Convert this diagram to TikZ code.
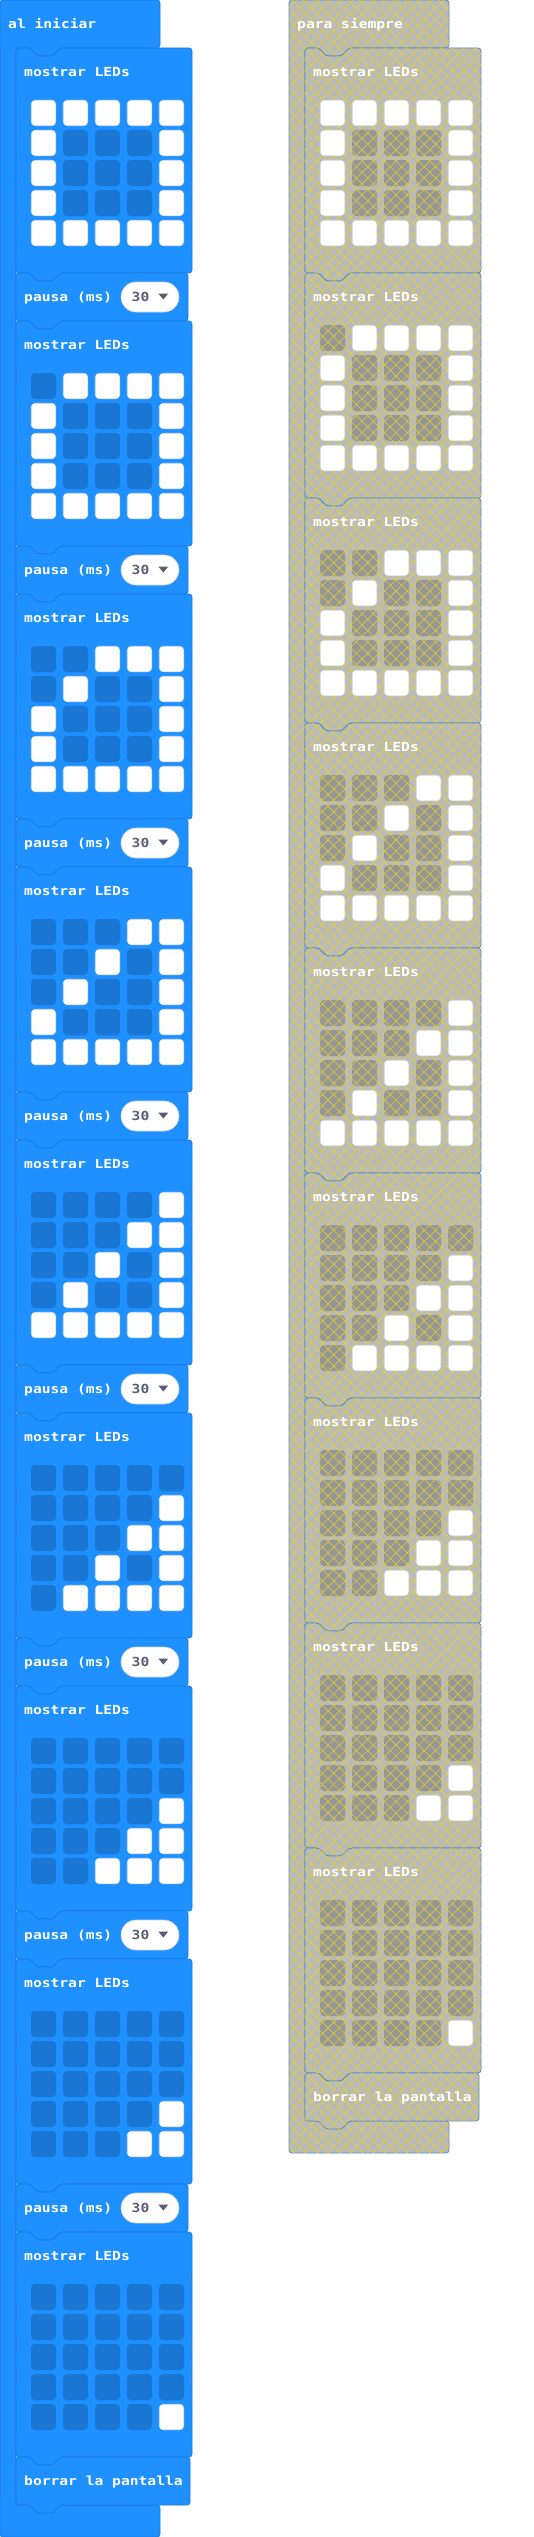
\documentclass[tikz,border=0pt]{standalone}
\usepackage{fontspec}
\newfontfamily\blockfont[FakeStretch=1.17]{DejaVu Sans Mono}
\usetikzlibrary{patterns.meta}
\usetikzlibrary{calc}
\definecolor{blockblue}{RGB}{30,144,255}
\definecolor{blockrim}{RGB}{26,124,222}
\definecolor{ledblue}{RGB}{25,118,210}
\definecolor{ledrim}{RGB}{214,222,234}
\definecolor{greyfill}{RGB}{186,186,186}
\definecolor{greyrim}{RGB}{84,138,198}
\definecolor{ledgrey}{RGB}{150,150,150}
\definecolor{hatchyellow}{RGB}{226,214,30}
\definecolor{dropgrey}{RGB}{87,94,117}
\definecolor{pillrim}{RGB}{205,210,220}
\tikzstyle{hatched}=[postaction={pattern={Hatch[angle=45,distance=8pt,line width=0.5pt]},pattern color=hatchyellow}]
\tikzstyle{blueblock}=[fill=blockblue,draw=blockrim,line width=0.8pt,rounded corners=3pt]
\tikzstyle{greyblock}=[fill=greyfill,draw=greyrim,line width=0.8pt,rounded corners=3pt,hatched]
\tikzstyle{blocktext}=[anchor=base west,inner sep=0pt,text=white,font=\blockfont\bfseries\fontsize{12.5}{15}\selectfont]
\tikzstyle{numtext}=[blocktext,text=dropgrey]
\tikzstyle{ledon}=[rectangle,rounded corners=4pt,minimum width=24.5pt,minimum height=25.5pt,inner sep=0pt,fill=white,draw=ledrim,line width=0.6pt]
\tikzstyle{ledoffblue}=[rectangle,rounded corners=4pt,minimum width=25pt,minimum height=26pt,inner sep=0pt,fill=ledblue]
\tikzstyle{ledoffgrey}=[ledoffblue,fill=ledgrey,hatched]
\tikzstyle{pill}=[rectangle,rounded corners=15pt,minimum width=58pt,minimum height=30pt,inner sep=0pt,fill=white,draw=pillrim,line width=0.6pt]
% stack block: style, left, top, right, bottom (notch on top, tab below)
\newcommand{\blockpath}[5]{%
  \path[#1] (#2,#3) -- (#2+14,#3) -- (#2+21,#3+8) -- (#2+37,#3+8) -- (#2+44,#3)
    -- (#4,#3) -- (#4,#5) -- (#2+44,#5) -- (#2+37,#5+8) -- (#2+21,#5+8) -- (#2+14,#5)
    -- (#2,#5) -- cycle;}

\begin{document}
\begin{tikzpicture}[x=1pt,y=-1pt]

  \useasboundingbox (0,0) rectangle (533,2537);

% Event blocks
  \foreach \x/\bot/\sty/\name/\txt in {0/2505/blueblock/start/al iniciar, 289/2121/greyblock/forever/para siempre} {
    \path[\sty] (\x,0) -- (\x+160,0) -- (\x+160,48) -- (\x+60,48) -- (\x+53,56) -- (\x+37,56) -- (\x+30,48)
      -- (\x+16,48) -- (\x+16,\bot) -- (\x+160,\bot) -- (\x+160,\bot+32) -- (\x,\bot+32) -- cycle;
    \node[blocktext] (\name) at (\x+8,28.5) {\txt};
  }

% show leds frames (+ pause on the left)
  \foreach \col/\x/\gap/\sty/\off in {L/16/273/blueblock/ledoffblue, R/305/225/greyblock/ledoffgrey} {
    \foreach \k in {0,...,8} {
      \pgfmathtruncatemacro{\ytop}{48+\gap*\k}
      \blockpath{\sty}{\x}{\ytop}{\x+176}{\ytop+225}
      \node[blocktext] (\col head\k) at (\x+8,\ytop+28.5) {mostrar LEDs};
      \foreach \row in {0,...,4}
        \foreach \clm in {0,...,4} {
          \pgfmathtruncatemacro{\lit}{((\row+\clm)==\k)||(((\row==0)||(\row==4)||(\clm==0)||(\clm==4))&&((\row+\clm)>=\k))}
          \ifnum\lit=1 \def\st{ledon}\else\edef\st{\off}\fi
          \node[\st] (\col\k-\row\clm) at (\x+27.5+32*\clm,\ytop+65+30*\row) {};
        }
      \ifnum\gap=273 \ifnum\k<8
        \blockpath{blueblock}{\x}{\ytop+225}{\x+172}{\ytop+273}
        \node[blocktext] (pause\k) at (\x+8,\ytop+253.5) {pausa (ms)};
        \node[pill] (pill\k) at (\x+134,\ytop+249) {};
        \node[numtext] (ms\k) at (\x+115.5,\ytop+253.5) {30};
        \fill[dropgrey] ($(pill\k.east)+(-21,-3.5)$) -- ++(10,0) -- ++(-5,6) -- cycle;
      \fi \fi
    }
  }

% Clear screen
  \blockpath{blueblock}{16}{2457}{190}{2505}
  \node[blocktext] (Lclear) at (24,2485.5) {borrar la pantalla};
  \blockpath{greyblock}{305}{2073}{479}{2121}
  \node[blocktext] (Rclear) at (313,2101.5) {borrar la pantalla};

\end{tikzpicture}
\end{document}
